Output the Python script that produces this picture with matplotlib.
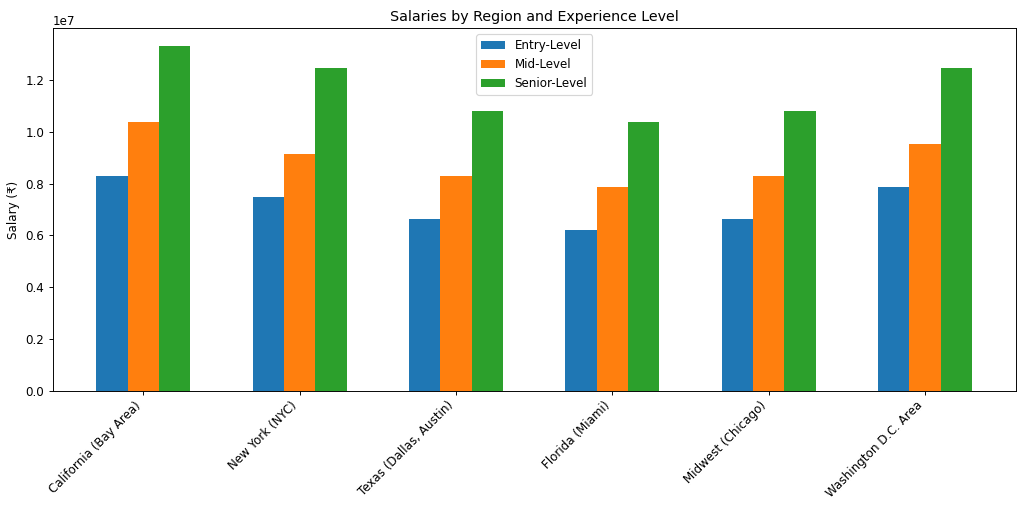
import numpy as np
import matplotlib
matplotlib.use("Agg")
import matplotlib.pyplot as plt

regions = ["California (Bay Area)", "New York (NYC)", "Texas (Dallas, Austin)",
           "Florida (Miami)", "Midwest (Chicago)", "Washington D.C. Area"]
entry = [8.30e6, 7.47e6, 6.64e6, 6.225e6, 6.64e6, 7.885e6]
mid = [10.375e6, 9.13e6, 8.30e6, 7.885e6, 8.30e6, 9.545e6]
senior = [13.33e6, 12.45e6, 10.79e6, 10.375e6, 10.79e6, 12.45e6]

x = np.arange(len(regions))
width = 0.2

dpi = 1024 / 12
fig, ax = plt.subplots(figsize=(12, 508 / dpi), dpi=dpi)
ax.bar(x - width, entry, width, label="Entry-Level")
ax.bar(x, mid, width, label="Mid-Level")
ax.bar(x + width, senior, width, label="Senior-Level")

ax.set_ylabel("Salary (₹)")
ax.set_title("Salaries by Region and Experience Level")
ax.set_xticks(x)
ax.set_xticklabels(regions, rotation=45, ha="right")
ax.legend(loc="upper center")

fig.subplots_adjust(left=0.0513, right=0.992, top=0.944, bottom=0.231)
fig.savefig("out.png", dpi=dpi)
